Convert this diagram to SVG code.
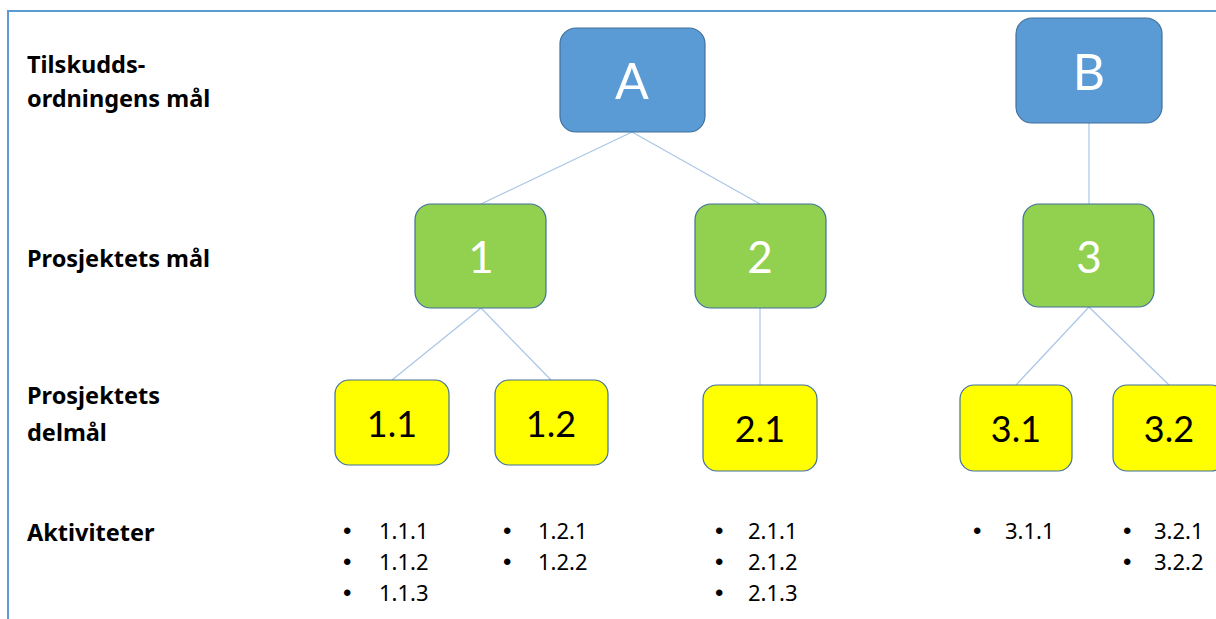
<svg xmlns="http://www.w3.org/2000/svg" width="1216" height="619" viewBox="0 0 1216 619">
<style>
.frame{fill:none;stroke:#5b9bd5;stroke-width:2}
.blue{fill:#5b9bd5;stroke:#41719c;stroke-width:1.2}
.green{fill:#92d050;stroke:#41719c;stroke-width:1.2}
.yellow{fill:#ffff00;stroke:#41719c;stroke-width:1.2}
.conn line{stroke:#a9c6e6;stroke-width:1.2}
.big{font-family:Lato,"Liberation Sans",sans-serif;fill:#fff;text-anchor:middle}
.mid{font-family:Lato,"Liberation Sans",sans-serif;fill:#000;text-anchor:middle;font-size:36px}
.lbl{font-family:"Noto Sans","Liberation Sans",sans-serif;font-weight:bold;font-size:23.5px;fill:#000}
.li{font-family:"Noto Sans","Liberation Sans",sans-serif;font-size:22px;fill:#000}
.bu{font-family:"Liberation Sans",sans-serif;font-size:24px;fill:#000}
</style>
<rect width="1216" height="619" fill="#fff"/>
<path class="frame" d="M8,619 V11 H1216"/>
<g id="labels">
<text class="lbl" x="27" y="73">Tilskudds-</text>
<text class="lbl" x="27" y="107">ordningens mål</text>
<text class="lbl" x="27" y="267">Prosjektets mål</text>
<text class="lbl" x="27" y="404">Prosjektets</text>
<text class="lbl" x="27" y="441">delmål</text>
<text class="lbl" x="27" y="541">Aktiviteter</text>
</g>
<g class="conn" id="connectors">
<line x1="632" y1="132" x2="481" y2="204"/>
<line x1="632" y1="132" x2="760" y2="204"/>
<line x1="1089" y1="123" x2="1089" y2="204"/>
<line x1="481" y1="308" x2="392" y2="380"/>
<line x1="481" y1="308" x2="551" y2="380"/>
<line x1="760" y1="308" x2="760" y2="385"/>
<line x1="1089" y1="307" x2="1016" y2="385"/>
<line x1="1089" y1="307" x2="1169" y2="385"/>
</g>
<g id="nodeA"><rect class="blue" x="560" y="28" width="145" height="104" rx="16"/><text class="big" x="632" y="99" font-size="50">A</text></g>
<g id="nodeB"><rect class="blue" x="1016" y="18" width="146" height="105" rx="16"/><text class="big" x="1089" y="90" font-size="50">B</text></g>
<g id="node1"><rect class="green" x="415" y="204" width="131" height="104" rx="16"/><text class="big" x="481" y="273" font-size="44">1</text></g>
<g id="node2"><rect class="green" x="695" y="204" width="131" height="104" rx="16"/><text class="big" x="760" y="273" font-size="44">2</text></g>
<g id="node3"><rect class="green" x="1023" y="204" width="131" height="103" rx="16"/><text class="big" x="1089" y="273" font-size="44">3</text></g>
<g id="node11"><rect class="yellow" x="335" y="380" width="114" height="85" rx="14"/><text class="mid" x="392" y="437">1.1</text></g>
<g id="node12"><rect class="yellow" x="495" y="380" width="113" height="85" rx="14"/><text class="mid" x="551" y="437">1.2</text></g>
<g id="node21"><rect class="yellow" x="703" y="385" width="114" height="86" rx="14"/><text class="mid" x="760" y="442">2.1</text></g>
<g id="node31"><rect class="yellow" x="960" y="385" width="112" height="86" rx="14"/><text class="mid" x="1016" y="442">3.1</text></g>
<g id="node32"><rect class="yellow" x="1113" y="385" width="112" height="86" rx="14"/><text class="mid" x="1169" y="442">3.2</text></g>
<g id="acts11">
<text class="bu" x="343" y="539">•</text><text class="li" x="379" y="539">1.1.1</text>
<text class="bu" x="343" y="570">•</text><text class="li" x="379" y="570">1.1.2</text>
<text class="bu" x="343" y="601">•</text><text class="li" x="379" y="601">1.1.3</text>
</g>
<g id="acts12">
<text class="bu" x="503" y="539">•</text><text class="li" x="538" y="539">1.2.1</text>
<text class="bu" x="503" y="570">•</text><text class="li" x="538" y="570">1.2.2</text>
</g>
<g id="acts21">
<text class="bu" x="715" y="539">•</text><text class="li" x="748" y="539">2.1.1</text>
<text class="bu" x="715" y="570">•</text><text class="li" x="748" y="570">2.1.2</text>
<text class="bu" x="715" y="601">•</text><text class="li" x="748" y="601">2.1.3</text>
</g>
<g id="acts31">
<text class="bu" x="973" y="539">•</text><text class="li" x="1005" y="539">3.1.1</text>
</g>
<g id="acts32">
<text class="bu" x="1123" y="539">•</text><text class="li" x="1154" y="539">3.2.1</text>
<text class="bu" x="1123" y="570">•</text><text class="li" x="1154" y="570">3.2.2</text>
</g>
</svg>
